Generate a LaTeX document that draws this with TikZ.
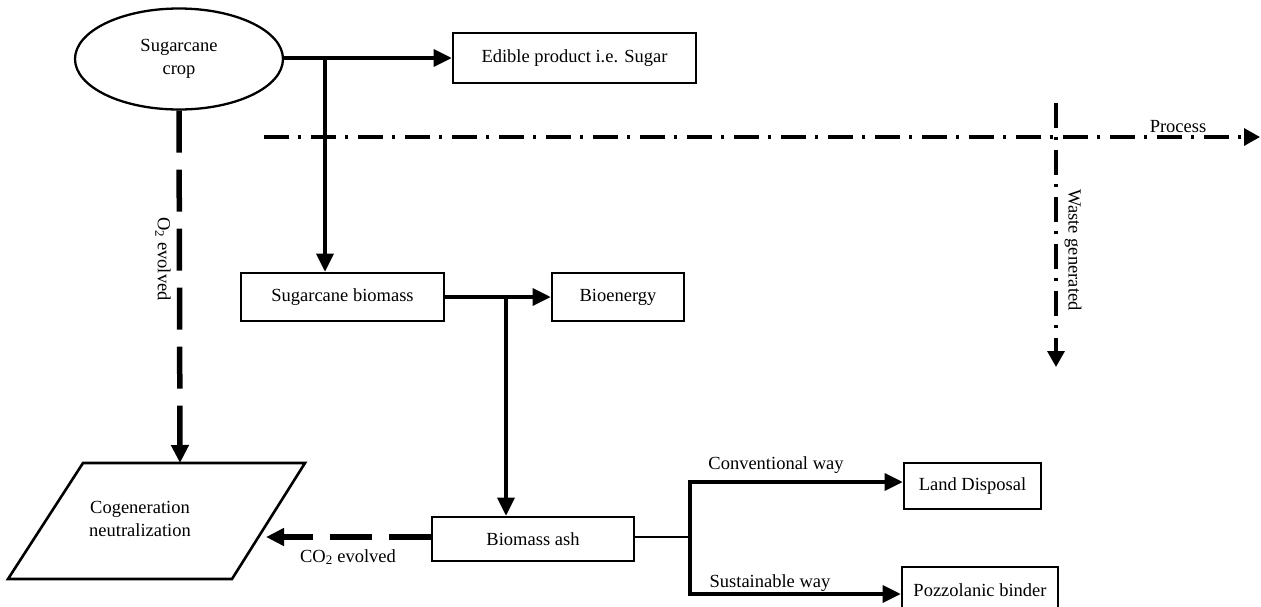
\documentclass[tikz,border=0pt]{standalone}
\usepackage{fontspec}
\setmainfont{Liberation Serif}
\usetikzlibrary{arrows.meta,shapes.geometric}
\tikzset{
  every node/.style={font=\fontsize{18.5}{23}\selectfont},
  box/.style={draw,line width=2.6pt,rectangle,inner sep=0pt},
  tip/.style={-{Triangle[length=18pt,width=17pt]}},
  flow/.style={tip,line width=3.4pt},
  thin/.style={line width=2.4pt},
  thickdash/.style={-{Triangle[length=18pt,width=17pt]},line width=5.5pt,dash pattern=on 42pt off 17pt},
  dashdot/.style={-{Triangle[length=16pt,width=17pt]},line width=3.4pt,dash pattern=on 25pt off 9pt on 3pt off 10pt},
  lbl/.style={inner sep=0pt}
}
\begin{document}
\begin{tikzpicture}[x=1pt,y=-1pt]
\useasboundingbox (0,0) rectangle (1261,606);
% nodes
\node[draw,ellipse,line width=2.3pt,minimum width=208pt,minimum height=101pt,align=center,inner sep=0pt] (crop) at (179,59) {Sugarcane\\crop};
\node[box,minimum width=243pt,minimum height=50pt] (sugar) at (574.5,58) {Edible product i.e. Sugar};
\node[box,minimum width=203pt,minimum height=48pt] (biomass) at (342.5,297) {Sugarcane biomass};
\node[box,minimum width=132pt,minimum height=48pt] (bio) at (618,297) {Bioenergy};
\node[box,minimum width=202pt,minimum height=44pt] (ash) at (533,539) {Biomass ash};
\node[box,minimum width=137pt,minimum height=46pt] (land) at (972.5,486) {Land Disposal};
\node[box,minimum width=156pt,minimum height=46pt] (pozz) at (980,590) {Pozzolanic binder};
% parallelogram
\draw[line width=2.6pt] (83,463) -- (305,463) -- (232,579) -- (8,579) -- cycle;
\node[align=center,inner sep=0pt] (cog) at (140,519) {Cogeneration\\neutralization};
\coordinate (cogtop) at (180,463);
\coordinate (cogright) at (266,537);
% junctions
\coordinate (j1) at (325,58);
\coordinate (j2) at (506,297);
\coordinate (j3) at (690,537);
% main flows
\draw[flow] (crop.east |- j1) -- (sugar.west);
\draw[flow] (j1) -- (j1 |- biomass.north);
\draw[flow] (biomass.east |- j2) -- (bio.west |- j2);
\draw[flow] (j2) -- (j2 |- ash.north);
\draw[thin] (ash.east |- j3) -- (j3);
\coordinate (j3top) at (690,482);
\coordinate (j3bot) at (690,594);
\draw[line width=3.4pt] (j3top) -- (j3bot);
\draw[flow] ([xshift=-1.7pt]j3top) -- (land.west |- j3top);
\draw[flow] ([xshift=-1.7pt]j3bot) -- (pozz.west |- j3bot);
\node[lbl] (conv) at (776,465) {Conventional way};
\node[lbl] (sust) at (770,583) {Sustainable way};
% dashed
\draw[thickdash] (crop.south) -- (cogtop);
\node[lbl,rotate=-90] (o2) at (163,259) {O\textsubscript{2} evolved};
\draw[thickdash] (ash.west |- cogright) -- (cogright);
\node[lbl] (co2) at (348,557) {CO\textsubscript{2} evolved};
% process axes
\coordinate (ps) at (264,137);
\coordinate (pe) at (1260,137);
\draw[dashdot] (ps) -- (pe);
\node[lbl] (proc) at (1178,127) {Process};
\coordinate (ws) at (1056,103);
\coordinate (we) at (1056,367);
\draw[dashdot] (ws) -- (we);
\node[lbl,rotate=-90] (waste) at (1073,250) {Waste generated};
\end{tikzpicture}
\end{document}
